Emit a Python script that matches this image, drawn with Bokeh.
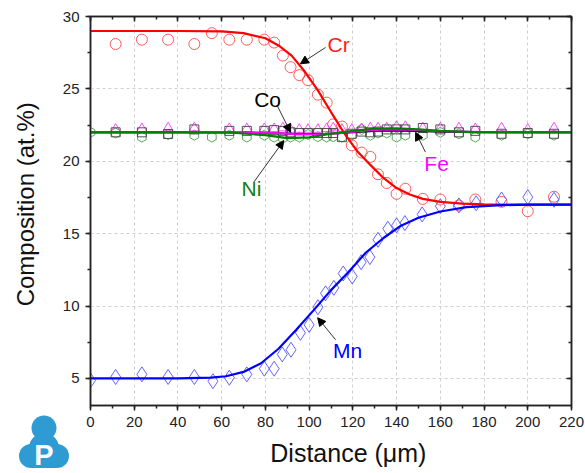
import numpy as np
from bokeh.plotting import figure
from bokeh.layouts import column
from bokeh.models import (Range1d, LinearAxis, SingleIntervalTicker, Label, Arrow,
                          NormalHead, CustomJSTickFormatter, Div)
from bokeh.embed import file_html
from bokeh.resources import INLINE

# ---------------- data ----------------
cr_x = [11.5, 23.5, 35.5, 47.5, 55.5, 63.5, 71.5, 79.5, 84, 88, 91.5, 95.5, 99.5, 104, 108,
        111, 115, 119.5, 124, 128, 131.5, 135.5, 140, 144, 152, 160, 168.5, 176, 188, 200, 212]
cr_y = [28.1, 28.4, 28.4, 28.1, 28.85, 28.4, 28.4, 28.4, 28.2, 27.3, 26.5, 25.95, 25.6, 24.6, 24.05,
        22.55, 22.4, 21.1, 20.6, 20.3, 19.1, 18.5, 17.75, 18.1, 17.4, 17.36, 16.95, 17.36, 17.2, 16.55, 17.55]

mn_x = [0, 11.5, 23.5, 35.5, 47.5, 56, 63.5, 71.5, 79.5, 84, 87.7, 91.7, 96, 100, 104,
        107.5, 111.3, 115.6, 119.7, 123.8, 127.8, 131.5, 136, 140, 143.8, 151.7, 160, 168.5,
        176.4, 188, 200, 212]
mn_y = [4.86, 5.1, 5.28, 5.1, 5.1, 4.81, 5.05, 5.28, 5.67, 5.67, 6.66, 6.98, 8.15, 8.7, 9.92,
        10.88, 11.26, 12.25, 12.04, 13.03, 13.38, 14.58, 15.34, 15.57, 15.73, 16.33, 16.9, 16.95,
        17.1, 17.36, 17.52, 17.34]

co_x = [11.5, 23.5, 35.5, 47.5, 63.5, 71.5, 79.5, 84, 88, 91.5, 95.5, 99.5, 104, 108, 111,
        115, 119.5, 124, 128, 131.5, 135.5, 140, 144, 152, 160, 168.5, 176, 188, 200, 212]
co_y = [22.0, 22.0, 21.88, 22.2, 22.1, 22.1, 22.1, 22.15, 22.1, 22.0, 21.95, 21.95, 21.95, 21.95, 21.95,
        21.67, 21.9, 22.05, 22.0, 22.05, 22.2, 22.2, 22.2, 22.3, 22.2, 22.0, 22.1, 21.9, 21.95, 21.9]

fe_x = co_x
fe_y = [22.2, 22.25, 22.3, 22.3, 22.25, 22.25, 22.25, 22.25, 22.3, 22.2, 22.2, 22.2, 22.2, 22.25, 22.3,
        22.2, 22.2, 22.25, 22.3, 22.3, 22.3, 22.4, 22.4, 22.3, 22.3, 22.3, 22.25, 22.3, 22.2, 22.3]

ni_x = [0, 11.5, 23.5, 35.5, 47.5, 55.5, 63.5, 71.5, 79.5, 84, 88, 91.5, 95.5, 99.5, 104, 108,
        111, 115, 119.5, 124, 128, 131.5, 135.5, 140, 144, 152, 160, 168.5, 176, 188, 200, 212]
ni_y = [22.0, 21.95, 21.67, 21.85, 21.8, 21.67, 21.8, 21.67, 21.8, 21.67, 21.6, 21.67, 21.67, 21.85,
        21.7, 21.67, 21.7, 21.67, 21.8, 22.2, 21.8, 21.95, 21.95, 21.67, 21.8, 21.8, 22.0, 21.9,
        21.67, 21.8, 21.9, 21.8]

# fitted profiles
cr_fit_x = [0, 20, 40, 60, 70, 80, 86, 92, 98, 104, 110, 116, 122, 128, 134, 140, 146, 152, 160,
            170, 180, 200, 220]
cr_fit_y = [29, 29, 29, 28.97, 28.85, 28.5, 28.0, 27.3, 26.2, 24.9, 23.4, 21.95, 20.7, 19.75,
            18.85, 18.15, 17.7, 17.4, 17.2, 17.07, 17.02, 17.0, 17.0]

mn_fit_x = [0, 20, 40, 55, 62, 70, 78, 86, 94, 102, 110, 118, 126, 134, 142, 150, 160, 172,
            188, 200, 220]
mn_fit_y = [5, 5, 5, 5.05, 5.15, 5.45, 6.05, 7.05, 8.35, 9.7, 11.1, 12.35, 13.7, 14.7, 15.55,
            16.1, 16.53, 16.83, 16.97, 17, 17]

co_fit_x = [0, 40, 70, 85, 95, 105, 115, 125, 135, 145, 160, 180, 220]
co_fit_y = [22, 22, 22, 21.95, 21.88, 21.88, 21.95, 22.05, 22.12, 22.1, 22.03, 22.0, 22.0]
fe_fit_y = [22, 22, 22, 21.95, 21.85, 21.85, 21.95, 22.1, 22.2, 22.18, 22.08, 22.02, 22.0]

ni_fit_x = [0, 40, 65, 80, 90, 100, 110, 120, 130, 140, 150, 160, 175, 190, 220]
ni_fit_y = [22, 22, 21.97, 21.8, 21.6, 21.65, 21.9, 22.1, 22.25, 22.27, 22.2, 22.1, 22.02, 22.0, 22.0]

# annotation labels: text, x, y, colour, arrow start (x, y), arrow end (x, y)
ann_text = ["Cr", "Co", "Ni", "Fe", "Mn"]
ann_x = [113.5, 81.0, 73.6, 158.3, 117.6]
ann_y = [28.1, 24.3, 18.1, 19.85, 6.93]
ann_color = ["#ff2020", "#000000", "#108010", "#ff00ff", "#0000ff"]
arr_x0 = [107.5, 85.4, 74.7, 153.2, 112.1]
arr_y0 = [27.86, 23.85, 18.56, 20.63, 7.67]
arr_x1 = [96.0, 91.5, 88.4, 148.7, 103.9]
arr_y1 = [26.73, 22.0, 21.43, 22.0, 9.19]

# ---------------- figure ----------------
FONT = "Liberation Sans"
NB = "\u00a0"
p = figure(width=585, height=473, x_range=Range1d(0, 220), y_range=Range1d(3.13, 30),
           output_backend="svg", toolbar_location=None,
           min_border_left=90, min_border_right=14, min_border_top=16, min_border_bottom=68,
           background_fill_color="white", border_fill_color="white")
p.outline_line_color = "#222222"
p.outline_line_width = 1.5

xt = SingleIntervalTicker(interval=20, num_minor_ticks=2)
yt = SingleIntervalTicker(interval=5, num_minor_ticks=2)
p.xaxis.ticker = xt
p.yaxis.ticker = yt
p.xgrid.ticker = xt
p.ygrid.ticker = yt
for g in (p.xgrid, p.ygrid):
    g.grid_line_color = "#cfcfcf"
    g.grid_line_dash = "3 3"
    g.grid_line_width = 1

for ax in (p.xaxis, p.yaxis):
    ax.axis_line_color = "#222222"
    ax.axis_line_width = 1.5
    ax.major_tick_line_color = "#222222"
    ax.minor_tick_line_color = "#222222"
    ax.major_tick_line_width = 1.5
    ax.minor_tick_line_width = 1.5
    ax.major_tick_out = 5
    ax.major_tick_in = 0
    ax.minor_tick_out = 3
    ax.minor_tick_in = 0
    ax.major_label_text_font = FONT
    ax.major_label_text_font_size = "15px"
    ax.major_label_text_color = "#222222"
    ax.axis_label_text_font = FONT
    ax.axis_label_text_font_style = "normal"
    ax.axis_label_text_color = "#111111"

p.xaxis.axis_label = NB * 5 + "Distance (\u03bcm)"
p.yaxis.axis_label = NB * 2 + "Composition (at.%)"
p.xaxis.axis_label_text_font_size = "25px"
p.yaxis.axis_label_text_font_size = "24px"
p.xaxis.major_label_standoff = 6
p.yaxis.major_label_standoff = 6
p.xaxis.axis_label_standoff = 9
p.yaxis.axis_label_standoff = 21

# mirrored axes with inward ticks and no labels
blank = CustomJSTickFormatter(code="return ''")
top = LinearAxis(ticker=SingleIntervalTicker(interval=20, num_minor_ticks=2), formatter=blank)
right = LinearAxis(ticker=SingleIntervalTicker(interval=5, num_minor_ticks=2), formatter=blank)
for ax in (top, right):
    ax.axis_line_color = "#222222"
    ax.axis_line_width = 1.5
    ax.major_tick_line_color = "#222222"
    ax.minor_tick_line_color = "#222222"
    ax.major_tick_line_width = 1.5
    ax.minor_tick_line_width = 1.5
    ax.major_tick_in = 5
    ax.major_tick_out = 0
    ax.minor_tick_in = 3
    ax.minor_tick_out = 0
    ax.major_label_standoff = 0
p.add_layout(top, "above")
p.add_layout(right, "right")

# ---------------- data glyphs ----------------
p.scatter(cr_x, cr_y, marker="circle", size=11, fill_color=None,
          line_color="#ff4040", line_width=1, line_alpha=0.85)
p.scatter(mn_x, mn_y, marker="diamond", size=15, fill_color=None,
          line_color="#4a4aff", line_width=1, line_alpha=0.85)
p.scatter(ni_x, ni_y, marker="hex", size=10, angle=np.pi / 2, fill_color=None,
          line_color="#3a9a3a", line_width=1, line_alpha=0.85)
p.scatter(fe_x, fe_y, marker="triangle", size=10, fill_color=None,
          line_color="#ff30ff", line_width=1, line_alpha=0.85)
p.scatter(co_x, co_y, marker="square", size=9, fill_color=None,
          line_color="#404040", line_width=1, line_alpha=0.9)

p.line(cr_fit_x, cr_fit_y, line_color="#ff0000", line_width=2.2)
p.line(mn_fit_x, mn_fit_y, line_color="#0000ff", line_width=2.2)
p.line(co_fit_x, co_fit_y, line_color="#000000", line_width=1.8)
p.line(co_fit_x, fe_fit_y, line_color="#ff00ff", line_width=2)
p.line(ni_fit_x, ni_fit_y, line_color="#008000", line_width=2.2)

# ---------------- annotations ----------------
for t, x, y, c, x0, y0, x1, y1 in zip(ann_text, ann_x, ann_y, ann_color,
                                      arr_x0, arr_y0, arr_x1, arr_y1):
    p.add_layout(Arrow(x_start=x0, y_start=y0, x_end=x1, y_end=y1,
                       line_color="#333333", line_width=1,
                       end=NormalHead(size=8, fill_color="#000000", line_color="#000000",
                                      line_width=1)))
    p.add_layout(Label(x=x, y=y, text=t, text_color=c, text_font=FONT,
                       text_font_size="21px", text_align="center", text_baseline="middle"))

# ---------------- logo (overlaid in the bottom-left corner) ----------------
LOGO = "#2f9bd3"
svg = (
    '<svg xmlns="http://www.w3.org/2000/svg" width="54" height="58" viewBox="0 0 54 58">'
    f'<circle cx="28" cy="13" r="12.5" fill="{LOGO}"/>'
    f'<circle cx="15" cy="41" r="12" fill="{LOGO}"/>'
    f'<circle cx="41" cy="41" r="12" fill="{LOGO}"/>'
    f'<circle cx="28" cy="33" r="15" fill="{LOGO}"/>'
    f'<rect x="15" y="30" width="26" height="23" fill="{LOGO}"/>'
    '<text x="28" y="50" text-anchor="middle" fill="white" '
    'font-family="DejaVu Serif" font-weight="bold" font-size="29">P</text>'
    '</svg>'
)
logo = Div(text=svg, width=54, height=58, margin=(-58, 0, 0, 16))
page = column(p, logo, spacing=0)

open("out.html", "w").write(file_html(page, INLINE))
